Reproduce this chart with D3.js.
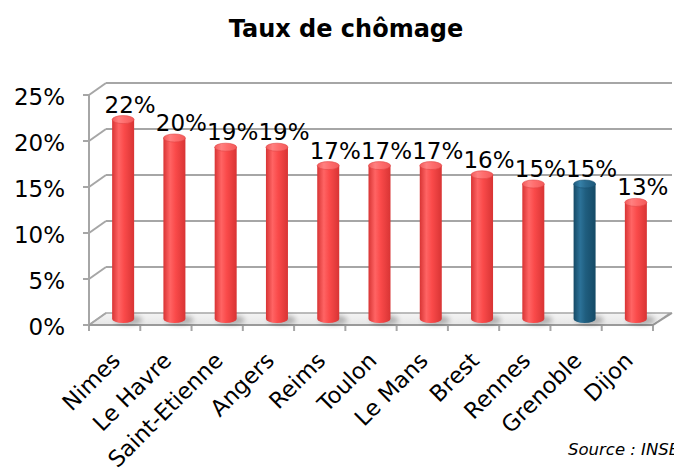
<!DOCTYPE html>
<html>
<head>
<meta charset="utf-8">
<script src="https://cdn.jsdelivr.net/npm/d3@7"></script>
<style>
  html, body { margin: 0; padding: 0; background: #fff; }
  svg { display: block; font-family: "DejaVu Sans", Verdana, sans-serif; }
</style>
</head>
<body>
<svg id="chart" width="674" height="468"></svg>
<script>
// Taux de chômage par ville (3D cylinder chart, Excel style)
const cities = ["Nimes", "Le Havre", "Saint-Etienne", "Angers", "Reims", "Toulon",
                "Le Mans", "Brest", "Rennes", "Grenoble", "Dijon"];
const rates = [22, 20, 19, 19, 17, 17, 17, 16, 15, 15, 13];
const highlight = ["Grenoble"];
const yTicks = [0, 5, 10, 15, 20, 25];

const width = 674, height = 468;
// depth offset of the 3D box (front plane -> back wall)
const depthX = 17, depthY = -12;

const svg = d3.select("#chart");

const x = d3.scaleBand().domain(cities).range([89, 653]).padding(0);
const y = d3.scaleLinear().domain([0, 25]).range([325, 95]);

const defs = svg.append("defs");

function cylGradient(id, edge, mid, light) {
  const g = defs.append("linearGradient").attr("id", id)
      .attr("x1", "0%").attr("x2", "100%").attr("y1", "0%").attr("y2", "0%");
  g.append("stop").attr("offset", "0%").attr("stop-color", edge);
  g.append("stop").attr("offset", "30%").attr("stop-color", light);
  g.append("stop").attr("offset", "55%").attr("stop-color", mid);
  g.append("stop").attr("offset", "100%").attr("stop-color", edge);
}
cylGradient("red-body", "#d83434", "#fa4a4a", "#ff6464");
cylGradient("blue-body", "#154a66", "#1f5d7e", "#2c7298");
cylGradient("red-top", "#f25a5a", "#ff6e6e", "#ff8080");
cylGradient("blue-top", "#1c587a", "#2a6c90", "#3580a8");

defs.append("filter").attr("id", "blur")
    .attr("x", "-50%").attr("y", "-50%").attr("width", "200%").attr("height", "200%")
  .append("feGaussianBlur").attr("stdDeviation", 2.5);

const floorGrad = defs.append("linearGradient").attr("id", "floor")
    .attr("x1", "0%").attr("x2", "0%").attr("y1", "0%").attr("y2", "100%");
floorGrad.append("stop").attr("offset", "0%").attr("stop-color", "#f4f4f4");
floorGrad.append("stop").attr("offset", "100%").attr("stop-color", "#e6e6e6");

const x0 = x.range()[0], x1 = x.range()[1];
const gridColor = "#a6a6a6";

// floor
svg.append("path")
    .attr("d", `M${x0},${y(0)}L${x1},${y(0)}L${x1 + depthX},${y(0) + depthY}L${x0 + depthX},${y(0) + depthY}Z`)
    .attr("fill", "url(#floor)")
    .attr("stroke", gridColor)
    .attr("stroke-width", 1.5);

// back wall gridlines + side wall diagonals
const grid = svg.append("g").attr("stroke", gridColor).attr("stroke-width", 2).attr("fill", "none");
grid.selectAll("line.back")
  .data(yTicks.filter(d => d > 0))
  .join("line")
    .attr("class", "back")
    .attr("x1", x0 + depthX).attr("x2", x1 + depthX + 2)
    .attr("y1", d => y(d) + depthY).attr("y2", d => y(d) + depthY);
grid.selectAll("line.side")
  .data(yTicks)
  .join("line")
    .attr("class", "side")
    .attr("x1", x0).attr("x2", x0 + depthX)
    .attr("y1", d => y(d)).attr("y2", d => y(d) + depthY);

// front vertical axis and ticks
grid.append("line")
    .attr("x1", x0).attr("x2", x0)
    .attr("y1", y(25)).attr("y2", y(0) + 6);
grid.selectAll("line.ytick")
  .data(yTicks)
  .join("line")
    .attr("class", "ytick")
    .attr("x1", x0 - 6).attr("x2", x0)
    .attr("y1", d => y(d)).attr("y2", d => y(d));
grid.selectAll("line.xtick")
  .data(d3.range(cities.length + 1))
  .join("line")
    .attr("class", "xtick")
    .attr("x1", i => x0 + i * x.bandwidth()).attr("x2", i => x0 + i * x.bandwidth())
    .attr("y1", y(0)).attr("y2", y(0) + 6);

// front floor edge, a bit darker
svg.append("line")
    .attr("x1", x0).attr("x2", x1)
    .attr("y1", y(0)).attr("y2", y(0))
    .attr("stroke", "#9a9a9a").attr("stroke-width", 2);
svg.append("line")
    .attr("x1", x1).attr("x2", x1 + depthX + 2)
    .attr("y1", y(0)).attr("y2", y(0) + depthY)
    .attr("stroke", "#9a9a9a").attr("stroke-width", 2);

// y labels
svg.append("g")
    .attr("font-size", 23)
    .attr("text-anchor", "end")
    .attr("fill", "#000")
  .selectAll("text")
  .data(yTicks)
  .join("text")
    .attr("x", 65)
    .attr("y", d => y(d) + 10)
    .text(d => d + "%");

// cylinders
const r = 11, ry = 4;
const cx = d => x(d) + x.bandwidth() / 2 + depthX / 2;
const baseY = y(0) + depthY / 2;
const topY = v => y(v) + depthY / 4;

const data = cities.map((c, i) => ({ city: c, value: rates[i], hi: highlight.includes(c) }));

svg.append("g").selectAll("ellipse")
  .data(data)
  .join("ellipse")
    .attr("cx", d => cx(d.city) + 5)
    .attr("cy", baseY + 1)
    .attr("rx", r + 3).attr("ry", ry + 1)
    .attr("fill", "#000").attr("opacity", 0.25)
    .attr("filter", "url(#blur)");

const cyl = svg.append("g").selectAll("g")
  .data(data)
  .join("g");

cyl.append("path")
    .attr("d", d => {
      const c = cx(d.city), t = topY(d.value);
      return `M${c - r},${t}V${baseY}A${r},${ry} 0 0 0 ${c + r},${baseY}V${t}Z`;
    })
    .attr("fill", d => d.hi ? "url(#blue-body)" : "url(#red-body)");

cyl.append("ellipse")
    .attr("cx", d => cx(d.city))
    .attr("cy", d => topY(d.value))
    .attr("rx", r).attr("ry", ry)
    .attr("fill", d => d.hi ? "url(#blue-top)" : "url(#red-top)")
    .attr("stroke", d => d.hi ? "#1a5170" : "#e04444")
    .attr("stroke-width", 0.6);

// value labels
svg.append("g")
    .attr("font-size", 23)
    .attr("text-anchor", "middle")
    .attr("fill", "#000")
  .selectAll("text")
  .data(data)
  .join("text")
    .attr("x", d => cx(d.city) + 7)
    .attr("y", d => topY(d.value) - ry - 3)
    .text(d => d.value + "%");

// category labels
svg.append("g")
    .attr("font-size", 22.5)
    .attr("text-anchor", "end")
    .attr("fill", "#000")
  .selectAll("text")
  .data(cities)
  .join("text")
    .attr("transform", d => `translate(${x(d) + x.bandwidth() / 2 + 7},362) rotate(-45)`)
    .text(d => d);

// title
svg.append("text")
    .attr("x", 346).attr("y", 37)
    .attr("text-anchor", "middle")
    .attr("font-size", 24)
    .attr("font-weight", "bold")
    .text("Taux de chômage");

// source
svg.append("text")
    .attr("x", 568).attr("y", 455)
    .attr("font-size", 16.5)
    .attr("font-style", "italic")
    .text("Source : INSEE");
</script>
</body>
</html>
